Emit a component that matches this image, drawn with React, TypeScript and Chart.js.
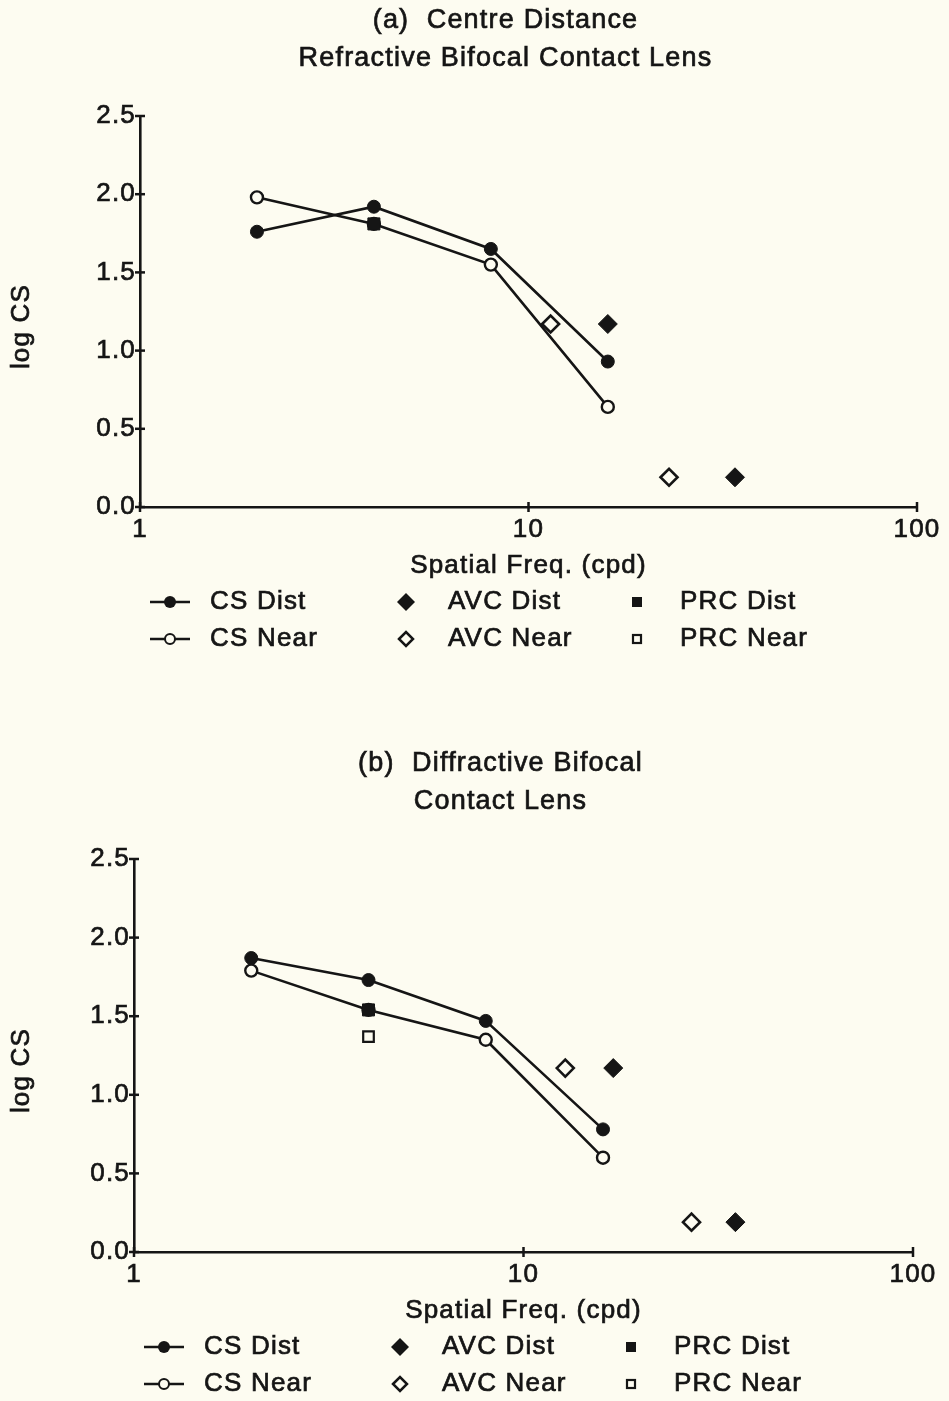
import React, { useEffect, useRef } from "react";
import { Chart, registerables } from "chart.js";

Chart.register(...registerables);

// ---------- shared text / ticks ----------
const xTickValues = [1, 10, 100];
const yTickValues = [0, 0.5, 1.0, 1.5, 2.0, 2.5];
const xAxisTitle = "Spatial Freq. (cpd)";
const yAxisTitle = "log CS";
const legendLabels = ["CS Dist", "AVC Dist", "PRC Dist", "CS Near", "AVC Near", "PRC Near"];

// ---------- panel (a) ----------
const aTitle = ["(a)  Centre Distance", "Refractive Bifocal Contact Lens"];
const aCsFreq = [2, 4, 8, 16];
const aCsDist = [1.76, 1.92, 1.65, 0.93];
const aCsNear = [1.98, 1.81, 1.55, 0.64];
const aAvcDistFreq = [16, 34];
const aAvcDist = [1.17, 0.19];
const aAvcNearFreq = [11.4, 23];
const aAvcNear = [1.17, 0.19];
const aPrcDistFreq = [4];
const aPrcDist = [1.81];
const aPrcNearFreq: number[] = [];
const aPrcNear: number[] = [];

// ---------- panel (b) ----------
const bTitle = ["(b)  Diffractive Bifocal", "Contact Lens"];
const bCsFreq = [2, 4, 8, 16];
const bCsDist = [1.87, 1.73, 1.47, 0.78];
const bCsNear = [1.79, 1.54, 1.35, 0.6];
const bAvcDistFreq = [17, 35];
const bAvcDist = [1.17, 0.19];
const bAvcNearFreq = [12.8, 27];
const bAvcNear = [1.17, 0.19];
const bPrcDistFreq = [4];
const bPrcDist = [1.54];
const bPrcNearFreq = [4];
const bPrcNear = [1.37];

const INK = "#151515";
const BG = "#fdfcf1";
const FONT = "'Liberation Sans', Arial, Helvetica, sans-serif";
const SPACING = "1.2px";
const TEXT_STROKE = 0.7;

type PanelData = {
  title: string[];
  csFreq: number[];
  csDist: number[];
  csNear: number[];
  avcDistFreq: number[];
  avcDist: number[];
  avcNearFreq: number[];
  avcNear: number[];
  prcDistFreq: number[];
  prcDist: number[];
  prcNearFreq: number[];
  prcNear: number[];
};

type PanelLayout = { height: number; top: number; bottom: number; left: number; right: number };

const panelA: PanelData = {
  title: aTitle,
  csFreq: aCsFreq, csDist: aCsDist, csNear: aCsNear,
  avcDistFreq: aAvcDistFreq, avcDist: aAvcDist,
  avcNearFreq: aAvcNearFreq, avcNear: aAvcNear,
  prcDistFreq: aPrcDistFreq, prcDist: aPrcDist,
  prcNearFreq: aPrcNearFreq, prcNear: aPrcNear,
};
const panelB: PanelData = {
  title: bTitle,
  csFreq: bCsFreq, csDist: bCsDist, csNear: bCsNear,
  avcDistFreq: bAvcDistFreq, avcDist: bAvcDist,
  avcNearFreq: bAvcNearFreq, avcNear: bAvcNear,
  prcDistFreq: bPrcDistFreq, prcDist: bPrcDist,
  prcNearFreq: bPrcNearFreq, prcNear: bPrcNear,
};

const layoutA: PanelLayout = { height: 700, top: 116, bottom: 507, left: 140, right: 917 };
const layoutB: PanelLayout = { height: 701, top: 159, bottom: 552, left: 134, right: 913 };

const pts = (xs: number[], ys: number[]) => xs.map((x, i) => ({ x, y: ys[i] }));

function makeDecor(panel: PanelData) {
  return {
    id: "decor",
    beforeUpdate(chart: any) {
      chart.ctx.letterSpacing = SPACING;
    },
    beforeDraw(chart: any) {
      chart.ctx.letterSpacing = SPACING;
    },
    afterDraw(chart: any) {
      const ctx: CanvasRenderingContext2D = chart.ctx;
      const a = chart.chartArea;
      const sx = chart.scales.x;
      const sy = chart.scales.y;
      ctx.save();
      (ctx as any).letterSpacing = SPACING;
      ctx.fillStyle = INK;
      ctx.strokeStyle = INK;
      ctx.lineWidth = 2.5;
      const seg = (x1: number, y1: number, x2: number, y2: number) => {
        ctx.beginPath();
        ctx.moveTo(x1, y1);
        ctx.lineTo(x2, y2);
        ctx.stroke();
      };
      const text = (t: string, x: number, y: number) => {
        const lw = ctx.lineWidth;
        ctx.lineWidth = TEXT_STROKE;
        ctx.fillText(t, x, y);
        ctx.strokeText(t, x, y);
        ctx.lineWidth = lw;
      };
      // crossing tick marks
      for (const v of yTickValues) {
        const y = sy.getPixelForValue(v);
        seg(a.left - 5, y, a.left + 5, y);
      }
      for (const v of xTickValues) {
        const x = sx.getPixelForValue(v);
        seg(x, a.bottom - 5, x, a.bottom + 5);
      }
      // titles
      ctx.textAlign = "center";
      ctx.textBaseline = "middle";
      ctx.font = `27px ${FONT}`;
      const cx = (a.left + a.right) / 2 - 23;
      panel.title.forEach((t, i) => text(t, cx, a.top - 95 + i * 38));
      // axis titles
      ctx.font = `26px ${FONT}`;
      text(xAxisTitle, (a.left + a.right) / 2, a.bottom + 59);
      ctx.save();
      ctx.translate(22, (a.top + a.bottom) / 2 + 15);
      ctx.rotate(-Math.PI / 2);
      text(yAxisTitle, 0, 0);
      ctx.restore();
      // legend
      const r1 = a.bottom + 95;
      const r2 = a.bottom + 132;
      const L = a.left;
      ctx.lineWidth = 2.5;
      seg(L + 10, r1, L + 50, r1);
      seg(L + 10, r2, L + 50, r2);
      ctx.beginPath();
      ctx.arc(L + 30, r1, 6, 0, Math.PI * 2);
      ctx.fill();
      ctx.lineWidth = 2;
      ctx.beginPath();
      ctx.arc(L + 30, r2, 5, 0, Math.PI * 2);
      ctx.fillStyle = BG;
      ctx.fill();
      ctx.stroke();
      ctx.fillStyle = INK;
      const diamond = (x: number, y: number, r: number) => {
        ctx.beginPath();
        ctx.moveTo(x - r, y);
        ctx.lineTo(x, y - r);
        ctx.lineTo(x + r, y);
        ctx.lineTo(x, y + r);
        ctx.closePath();
      };
      diamond(L + 266, r1, 9);
      ctx.fill();
      diamond(L + 266, r2, 7);
      ctx.fillStyle = BG;
      ctx.fill();
      ctx.lineWidth = 2.5;
      ctx.stroke();
      ctx.fillStyle = INK;
      ctx.fillRect(L + 497 - 5, r1 - 5, 10, 10);
      ctx.lineWidth = 2.2;
      ctx.strokeRect(L + 497 - 4, r2 - 4, 8, 8);
      ctx.textAlign = "left";
      ctx.font = `26px ${FONT}`;
      const cols = [L + 70, L + 308, L + 540];
      legendLabels.forEach((t, i) => {
        text(t, cols[i % 3], i < 3 ? r1 : r2);
      });
      ctx.restore();
    },
  };
}

function PanelChart({ panel, layout }: { panel: PanelData; layout: PanelLayout }) {
  const ref = useRef<HTMLCanvasElement>(null);
  useEffect(() => {
    const canvas = ref.current!;
    const xHeight = 40;
    const tickFont = { family: FONT, size: 26 };
    const chart = new Chart(canvas, {
      type: "scatter",
      data: {
        datasets: [
          {
            label: "PRC Dist",
            data: pts(panel.prcDistFreq, panel.prcDist),
            pointStyle: "rect",
            pointRadius: 8.5,
            pointBackgroundColor: INK,
            pointBorderColor: INK,
            pointBorderWidth: 1,
            showLine: false,
          },
          {
            label: "PRC Near",
            data: pts(panel.prcNearFreq, panel.prcNear),
            pointStyle: "rect",
            pointRadius: 7.5,
            pointBackgroundColor: BG,
            pointBorderColor: INK,
            pointBorderWidth: 2.2,
            showLine: false,
          },
          {
            label: "AVC Dist",
            data: pts(panel.avcDistFreq, panel.avcDist),
            pointStyle: "rectRot",
            pointRadius: 9.5,
            pointBackgroundColor: INK,
            pointBorderColor: INK,
            pointBorderWidth: 1,
            showLine: false,
          },
          {
            label: "AVC Near",
            data: pts(panel.avcNearFreq, panel.avcNear),
            pointStyle: "rectRot",
            pointRadius: 8.5,
            pointBackgroundColor: BG,
            pointBorderColor: INK,
            pointBorderWidth: 2.6,
            showLine: false,
          },
          {
            label: "CS Dist",
            data: pts(panel.csFreq, panel.csDist),
            showLine: true,
            borderColor: INK,
            borderWidth: 2.6,
            pointStyle: "circle",
            pointRadius: 6.5,
            pointBackgroundColor: INK,
            pointBorderColor: INK,
            pointBorderWidth: 1,
          },
          {
            label: "CS Near",
            data: pts(panel.csFreq, panel.csNear),
            showLine: true,
            borderColor: INK,
            borderWidth: 2.6,
            pointStyle: "circle",
            pointRadius: 6,
            pointBackgroundColor: BG,
            pointBorderColor: INK,
            pointBorderWidth: 2.4,
          },
        ],
      },
      options: {
        responsive: false,
        animation: false,
        devicePixelRatio: 1,
        layout: {
          padding: {
            top: layout.top,
            bottom: layout.height - layout.bottom - xHeight,
            left: 0,
            right: 949 - layout.right,
          },
        },
        plugins: {
          legend: { display: false },
          title: { display: false },
          tooltip: { enabled: false },
        },
        scales: {
          x: {
            type: "logarithmic",
            min: 1,
            max: 100,
            afterBuildTicks: (s: any) => {
              s.ticks = xTickValues.map((v) => ({ value: v }));
            },
            afterFit: (s: any) => {
              s.height = xHeight;
            },
            ticks: {
              callback: (v: any) => String(v),
              font: tickFont,
              color: INK,
              textStrokeColor: INK,
              textStrokeWidth: TEXT_STROKE,
              padding: 7,
              maxRotation: 0,
              autoSkip: false,
            },
            grid: { display: false, drawTicks: false },
            border: { display: true, color: INK, width: 2.6 },
          },
          y: {
            type: "linear",
            min: 0,
            max: 2.5,
            afterBuildTicks: (s: any) => {
              s.ticks = yTickValues.map((v) => ({ value: v }));
            },
            afterFit: (s: any) => {
              s.width = layout.left;
            },
            ticks: {
              callback: (v: any) => Number(v).toFixed(1),
              font: tickFont,
              color: INK,
              textStrokeColor: INK,
              textStrokeWidth: TEXT_STROKE,
              padding: 4,
            },
            grid: { display: false, drawTicks: false },
            border: { display: true, color: INK, width: 2.6 },
          },
        },
      } as any,
      plugins: [makeDecor(panel)],
    });
    return () => chart.destroy();
  }, []);
  return (
    <canvas
      ref={ref}
      width={949}
      height={layout.height}
      style={{ display: "block", width: 949, height: layout.height }}
    />
  );
}

export default function App() {
  return (
    <div
      style={{
        position: "absolute",
        left: 0,
        top: 0,
        width: 949,
        height: 1401,
        background: BG,
        overflow: "hidden",
      }}
    >
      <PanelChart panel={panelA} layout={layoutA} />
      <PanelChart panel={panelB} layout={layoutB} />
    </div>
  );
}
